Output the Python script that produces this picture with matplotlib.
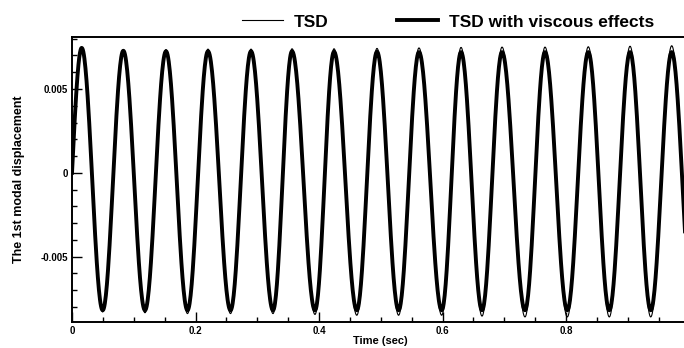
import numpy as np
import matplotlib.pyplot as plt
from matplotlib.ticker import MultipleLocator, FuncFormatter

plt.rcParams['font.family'] = ['Liberation Sans', 'DejaVu Sans']
plt.rcParams['font.weight'] = 'bold'

# extrema (time in s, displacement)
peak_t = [0.0157, 0.0831, 0.1522, 0.2202, 0.2899, 0.3563, 0.4243, 0.4939,
          0.5619, 0.6300, 0.6964, 0.7660, 0.8361, 0.9037, 0.9712]
trough_t = [0.0497, 0.1182, 0.1870, 0.2567, 0.3255, 0.3935, 0.4612, 0.5289,
            0.5987, 0.6640, 0.7336, 0.8021, 0.8701, 0.9372, 1.0055]

peak_tsd = [0.00745, 0.00735, 0.00735, 0.00738, 0.00738, 0.0074, 0.0074, 0.00742,
            0.00745, 0.00748, 0.0075, 0.0075, 0.00752, 0.00755, 0.00758]
trough_tsd = [-0.0083, -0.00835, -0.0084, -0.0084, -0.0084, -0.00845, -0.0085, -0.0085,
              -0.0085, -0.00855, -0.0086, -0.0086, -0.0086, -0.0086, -0.0086]

peak_visc = [0.00745, 0.00728, 0.00725, 0.00725, 0.00725, 0.00725, 0.00722, 0.00722,
             0.0072, 0.0072, 0.0072, 0.0072, 0.0072, 0.0072, 0.0072]
trough_visc = [-0.0082, -0.0082, -0.0082, -0.0082, -0.0082, -0.0082, -0.0082, -0.0082,
               -0.0082, -0.0082, -0.0082, -0.0082, -0.0082, -0.0082, -0.0082]


def trace(peaks, troughs):
    # join the extrema with half cosine arcs, starting from zero at t=0
    tt = [0.0]
    vv = [0.0]
    s = np.linspace(0, 1, 40)[1:]
    tt += list(peak_t[0] * s)
    vv += list(peaks[0] * np.sin(np.pi / 2 * s))
    pts = []
    for i in range(len(peak_t)):
        pts.append((peak_t[i], peaks[i]))
        pts.append((trough_t[i], troughs[i]))
    for (t0, v0), (t1, v1) in zip(pts[:-1], pts[1:]):
        tt += list(t0 + (t1 - t0) * s)
        vv += list((v0 + v1) / 2 + (v0 - v1) / 2 * np.cos(np.pi * s))
    return np.array(tt), np.array(vv)


def xfmt(v, p):
    if abs(v) < 1e-9:
        return '0'
    if v > 0.95:
        return ''  # the 1 falls outside the cropped picture
    return '%g' % v


fig = plt.figure(figsize=(6.84, 3.48), dpi=100)
ax = fig.add_axes([72 / 684, 26 / 348, 617.5 / 684, 285 / 348])

t1, y1 = trace(peak_tsd, trough_tsd)
t2, y2 = trace(peak_visc, trough_visc)
l2, = ax.plot(t2, y2, color='black', lw=2.8, label='TSD with viscous effects')
l1, = ax.plot(t1, y1, color='black', lw=0.8, label='TSD')

ax.set_xlim(0, 1)
ax.set_ylim(-0.0089, 0.0081)
ax.xaxis.set_major_locator(MultipleLocator(0.2))
ax.xaxis.set_minor_locator(MultipleLocator(0.05))
ax.yaxis.set_major_locator(MultipleLocator(0.005))
ax.yaxis.set_minor_locator(MultipleLocator(0.001))
ax.xaxis.set_major_formatter(FuncFormatter(xfmt))
ax.yaxis.set_major_formatter(FuncFormatter(lambda v, p: '0' if abs(v) < 1e-9 else '%.3f' % v))
ax.tick_params(which='both', direction='in', labelsize=7, width=1)
ax.tick_params(which='major', length=7, pad=3)
ax.tick_params(which='minor', length=3.5)
for sp in ax.spines.values():
    sp.set_linewidth(1.4)

ax.set_xlabel('Time (sec)', fontsize=8, fontweight='bold', labelpad=0)
ax.set_ylabel('The 1st modal displacement', fontsize=9, fontweight='bold', labelpad=11)

fig.legend(handles=[l1, l2], loc='center', bbox_to_anchor=(0.655, 0.937), ncol=2,
           frameon=False, handlelength=2.36, handletextpad=0.63,
           columnspacing=3.9, prop={'weight': 'bold', 'size': 12.5})

fig.savefig('out.png', dpi=100)
